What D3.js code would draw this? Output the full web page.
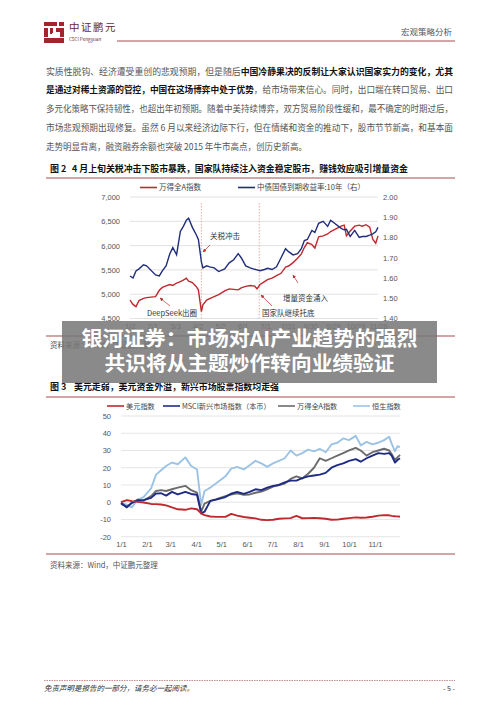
<!DOCTYPE html>
<html>
<head>
<meta charset="utf-8">
<script src="https://cdn.jsdelivr.net/npm/d3@7"></script>
<style>
  body { margin: 0; background: #fff; }
  svg { display: block; font-family: "Noto Sans CJK SC", "Noto Sans", sans-serif; }
</style>
</head>
<body>
<div id="container"></div>
<script>
// ---- chart 1 data: 万得全A指数 (left) vs 10年国债收益率 (right)
const dates1 = ["01-02","01-06","01-10","01-14","01-20","01-24","02-05","02-10","02-14","02-19","02-24","02-28",
  "03-05","03-10","03-14","03-18","03-21","03-26","03-31","04-03","04-07","04-09","04-14","04-18","04-24","04-30",
  "05-08","05-14","05-20","05-26","05-30","06-05","06-11","06-17","06-20","06-24","06-30","07-04","07-10","07-16",
  "07-22","07-28","08-01","08-07","08-13","08-18","08-22","08-26","09-01","09-05","09-10","09-16","09-22","09-26",
  "10-10","10-14","10-17","10-22","10-28","11-03","11-07","11-12","11-17","11-21","11-25","11-28"];
const windA1 = [4880,4790,4745,4870,4915,4930,4950,5080,5140,5170,5200,5180,
  5230,5260,5290,5330,5270,5240,5160,5090,4640,4780,4880,4910,4950,4990,
  5070,5110,5100,5090,5130,5160,5180,5165,5110,5200,5260,5300,5330,5380,
  5430,5560,5580,5650,5740,5830,5960,6060,6020,5950,6180,6200,6240,6290,
  6400,6420,6200,6300,6400,6420,6400,6430,6380,6130,6050,6200];
const bond10y = [1.610,1.600,1.635,1.645,1.665,1.660,1.615,1.610,1.635,1.660,1.720,1.750,
  1.715,1.830,1.855,1.885,1.895,1.850,1.815,1.790,1.680,1.650,1.660,1.655,1.650,1.632,
  1.645,1.675,1.690,1.720,1.700,1.660,1.650,1.643,1.640,1.636,1.642,1.648,1.642,1.655,
  1.700,1.745,1.730,1.714,1.720,1.745,1.785,1.790,1.835,1.825,1.870,1.880,1.855,1.885,
  1.845,1.838,1.840,1.805,1.835,1.800,1.805,1.805,1.812,1.818,1.828,1.850];
const ticks1X = ["01-02","02-01","03-03","04-02","05-02","06-01","07-01","07-31","08-30","09-29","10-29","11-28"];
const ticks1L = [4500,5000,5500,6000,6500,7000];
const ticks1R = [1.4,1.5,1.6,1.7,1.8,1.9,2.0];
const vlines1 = ["04-07","06-23"];

// ---- chart 2 data: 年初以来涨跌幅 (%)
const dates2 = ["01-01","01-08","01-14","01-21","01-28","02-06","02-12","02-18","02-24","03-03","03-10","03-19",
  "03-26","04-02","04-07","04-11","04-18","04-25","05-06","05-13","05-20","05-28","06-04","06-11","06-18","06-25",
  "07-02","07-09","07-16","07-23","07-30","08-06","08-13","08-20","08-27","09-03","09-10","09-17","09-24","10-01",
  "10-09","10-15","10-22","10-29","11-05","11-12","11-18","11-21","11-25","11-28","12-01"];
const usdIdx = [0,1.2,0.6,0.2,-0.2,-1,-1.1,-1.3,-1.8,-3,-4.1,-4.4,
  -3.6,-4.1,-6.5,-7.5,-8.3,-8.5,-8.5,-6.8,-7.8,-8.6,-9,-9.4,-10.2,-10.4,
  -10.2,-9.6,-9.4,-9.2,-7.9,-9.3,-9.2,-9.1,-9.3,-9.6,-10.2,-10.1,-9.6,-9.2,
  -8.8,-9,-8.9,-8.4,-7.8,-7.5,-7.6,-7.9,-8.1,-8.2,-8.4];
const msciEM = [-0.5,-3,-0.3,1,1.2,2.5,5,5.2,3.8,6,4.5,6,
  4.8,4.3,-6.5,-5.5,0.8,1.5,3,5,6,4.8,6,7.5,7,8.5,
  9.5,10,11.5,12.5,12.5,14,15,15.5,16,17,20,21.5,22.5,24,
  25,23.5,25.5,27,28.5,28,28.5,27,23,24.5,25.5];
const windA2 = [-1,-2.5,-0.5,1.5,1,3.5,6.5,7,6.5,7.5,8.5,9.5,
  7,5.5,-5.5,-0.8,0.8,1.8,3.5,4.5,5.2,4.3,4.5,5.5,6.2,7.5,
  9,10,10.8,13.5,15,13.8,16.5,20,25.5,24,25.5,27,28.5,30,
  31.5,30,27,29,30,31,30,28,24.5,26,27.5];
const hsi = [0,-1.5,-3,1.5,3,8,16,18.5,21,23,22,26,
  21,19,-1.5,6.5,8.5,11,15,19.5,20.5,19,21.5,24,22.5,20.5,
  22.5,24,25.5,30,27,28.5,30.5,29.5,31,29,33.5,34.5,37,36,
  38.5,33,35,33.5,34.5,36,38,34,29.5,32.5,32];
const ticks2X = ["01-01","02-01","03-01","04-01","05-01","06-01","07-01","08-01","09-01","10-01","11-01"];
const ticks2Y = [-20,-10,0,10,20,30,40,50];

const parse = d3.timeParse("%Y-%m-%d");
const dt = s => parse("2025-" + s);
const md = d => (d.getMonth() + 1) + "/" + d.getDate();

const W = 500, H = 706;
const red = "#c0282e", navy = "#1f2d7b", dark = "#a3252b";

const svg = d3.select("#container").append("svg")
  .attr("width", W).attr("height", H);
svg.append("rect").attr("width", W).attr("height", H).attr("fill", "#fff");

const defs = svg.append("defs");
defs.append("marker").attr("id", "arr")
  .attr("viewBox", "0 0 10 10").attr("refX", 9).attr("refY", 5)
  .attr("markerWidth", 5).attr("markerHeight", 5).attr("orient", "auto")
  .append("path").attr("d", "M0,0L10,5L0,10z").attr("fill", red);

// header
const logo = svg.append("g").attr("fill", dark);
[[44,22,13,4],[59,22,5,4],[44,28,4,9],[50,28,3,6],[56,28,8,4],[60,32,4,5],[44,38,20,5],[52,33,4,5]]
  .forEach(r => logo.append("rect").attr("x", r[0]).attr("y", r[1]).attr("width", r[2]).attr("height", r[3]));
logo.select("rect:nth-child(8)").attr("fill", "#fff");
svg.append("text").attr("x", 69).attr("y", 31).attr("font-size", 10.5).attr("fill", "#6b2a2d")
  .attr("letter-spacing", 1.5).text("中证鹏元");
svg.append("text").attr("x", 69).attr("y", 40.5).attr("font-size", 4.6).attr("fill", "#6b2a2d")
  .text("CSCI Pengyuan");
svg.append("line").attr("x1", 117).attr("x2", 455).attr("y1", 41).attr("y2", 41)
  .attr("stroke", "#a84c50").attr("stroke-width", 1);
svg.append("text").attr("x", 452).attr("y", 35).attr("text-anchor", "end")
  .attr("font-size", 8.5).attr("fill", "#555").text("宏观策略分析");

// body paragraph
const para = [
  {y: 74.5, len: 407, parts: [["实质性脱钩、经济遭受重创的悲观预期，但是随后", false], ["中国冷静果决的反制让大家认识国家实力的变化，尤其", true]]},
  {y: 93, len: 407, parts: [["是通过对稀土资源的管控，中国在这场博弈中处于优势", true], ["，给市场带来信心。同时，出口端在转口贸易、出口", false]]},
  {y: 112, len: 407, parts: [["多元化策略下保持韧性，也超出年初预期。随着中美持续博弈，双方贸易阶段性缓和，最不确定的时期过后，", false]]},
  {y: 131, len: 407, parts: [["市场悲观预期出现修复。虽然 6 月以来经济边际下行，但在情绪和资金的推动下，股市节节新高，和基本面", false]]},
  {y: 149.5, len: 261, parts: [["走势明显背离，融资融券余额也突破 2015 年牛市高点，创历史新高。", false]]}
];
para.forEach(p => {
  const t = svg.append("text").attr("x", 46).attr("y", p.y).attr("font-size", 8.8)
    .attr("textLength", p.len).attr("lengthAdjust", "spacingAndGlyphs");
  p.parts.forEach(q => t.append("tspan").text(q[0])
    .attr("font-weight", q[1] ? "bold" : "normal").attr("fill", q[1] ? "#111" : "#555"));
});

function figTitle(y, num, txt, len) {
  svg.append("text").attr("x", 50).attr("y", y).attr("font-size", 9).attr("font-weight", "bold")
    .attr("fill", "#111").text(num);
  svg.append("text").attr("x", num === "图 2" ? 72 : 74).attr("y", y).attr("font-size", 9)
    .attr("font-weight", "bold").attr("fill", "#111")
    .attr("textLength", len).attr("lengthAdjust", "spacingAndGlyphs").text(txt);
}
function rule(y) {
  svg.append("line").attr("x1", 46).attr("x2", 455).attr("y1", y).attr("y2", y)
    .attr("stroke", "#a84c50").attr("stroke-width", 1.2);
}
function source(y) {
  svg.append("text").attr("x", 50).attr("y", y).attr("font-size", 7.5).attr("fill", "#555")
    .text("资料来源：Wind，中证鹏元整理");
}

// ================= chart 1 =================
figTitle(171.5, "图 2", "4 月上旬关税冲击下股市暴跌，国家队持续注入资金稳定股市，赚钱效应吸引增量资金", 336);
rule(178);

const x1 = d3.scaleTime().domain([dt("01-02"), dt("11-28")]).range([130, 378]);
const yL = d3.scaleLinear().domain([4500, 7000]).range([318.5, 197]);
const yR = d3.scaleLinear().domain([1.4, 2.0]).range([318.5, 197]);

const c1 = svg.append("g");
c1.append("g").selectAll("line").data(ticks1L).join("line")
  .attr("x1", 130).attr("x2", 378).attr("y1", d => yL(d)).attr("y2", d => yL(d))
  .attr("stroke", "#d9d9d9").attr("stroke-width", 0.8);

const axL = c1.append("g").attr("transform", "translate(130,0)")
  .call(d3.axisLeft(yL).tickValues(ticks1L).tickSize(0).tickPadding(10).tickFormat(d3.format(",")));
const axR = c1.append("g").attr("transform", "translate(378,0)")
  .call(d3.axisRight(yR).tickValues(ticks1R).tickSize(0).tickPadding(5).tickFormat(d3.format(".2f")));
const axB = c1.append("g").attr("transform", "translate(0,318.5)")
  .call(d3.axisBottom(x1).tickValues(ticks1X.map(dt)).tickSize(0).tickPadding(5).tickFormat(md));
[axL, axR, axB].forEach(a => {
  a.select(".domain").remove();
  a.selectAll("text").attr("font-size", 7.5).attr("fill", "#555").attr("font-family", "Liberation Sans, sans-serif");
});

c1.selectAll(".vl").data(vlines1).join("line").attr("class", "vl")
  .attr("x1", d => x1(dt(d))).attr("x2", d => x1(dt(d))).attr("y1", 203).attr("y2", 318.5)
  .attr("stroke", "#e39a9a").attr("stroke-width", 0.8).attr("stroke-dasharray", "1.5,1.5");

const line1L = d3.line().x((d, i) => x1(dt(dates1[i]))).y(d => yL(d));
const line1R = d3.line().x((d, i) => x1(dt(dates1[i]))).y(d => yR(d));
c1.append("path").attr("d", line1L(windA1)).attr("fill", "none").attr("stroke", red).attr("stroke-width", 1.4);
c1.append("path").attr("d", line1R(bond10y)).attr("fill", "none").attr("stroke", navy).attr("stroke-width", 1.4);

// annotations
const notes = [
  {t: "关税冲击", tx: 210, ty: 239, a: [210, 245, 203, 252]},
  {t: "DeepSeek出圈", tx: 147, ty: 316, a: [170, 306, 160, 298]},
  {t: "国家队继续托底", tx: 262, ty: 316, a: [272, 306, 261, 295]},
  {t: "增量资金涌入", tx: 283, ty: 301, a: [298, 283, 293, 275]}
];
notes.forEach(n => {
  c1.append("line").attr("x1", n.a[0]).attr("y1", n.a[1]).attr("x2", n.a[2]).attr("y2", n.a[3])
    .attr("stroke", red).attr("stroke-width", 0.7).attr("marker-end", "url(#arr)");
  c1.append("text").attr("x", n.tx).attr("y", n.ty).attr("font-size", 7.5).attr("fill", "#333").text(n.t);
});

// legend 1
const leg1 = [{c: red, t: "万得全A指数", x: 140}, {c: navy, t: "中债国债到期收益率:10年（右）", x: 238}];
leg1.forEach(l => {
  svg.append("line").attr("x1", l.x).attr("x2", l.x + 17).attr("y1", 187.5).attr("y2", 187.5)
    .attr("stroke", l.c).attr("stroke-width", 1.6);
  svg.append("text").attr("x", l.x + 19).attr("y", 190.3).attr("font-size", 7.5).attr("fill", "#444").text(l.t);
});

rule(336);
source(347.5);

// ================= chart 2 =================
figTitle(389.5, "图 3", "美元走弱，美元资金外溢，新兴市场股票指数均走强", 205);
rule(397);

const x2 = d3.scaleTime().domain([dt("01-01"), dt("12-01")]).range([121, 400]);
const y2 = d3.scaleLinear().domain([-20, 50]).range([536.7, 416]);

const c2 = svg.append("g");
c2.append("g").selectAll("line").data(ticks2Y).join("line")
  .attr("x1", 121).attr("x2", 400).attr("y1", d => y2(d)).attr("y2", d => y2(d))
  .attr("stroke", "#dedede").attr("stroke-width", 0.8);
const ax2L = c2.append("g").attr("transform", "translate(121,0)")
  .call(d3.axisLeft(y2).tickValues(ticks2Y).tickSize(0).tickPadding(10).tickFormat(d => d < 0 ? "-" + (-d) : d));
const ax2B = c2.append("g").attr("transform", "translate(0,537)")
  .call(d3.axisBottom(x2).tickValues(ticks2X.map(dt)).tickSize(0).tickPadding(5).tickFormat(md));
[ax2L, ax2B].forEach(a => {
  a.select(".domain").remove();
  a.selectAll("text").attr("font-size", 7.5).attr("fill", "#555").attr("font-family", "Liberation Sans, sans-serif");
});

const series2 = [
  {v: hsi, c: "#9cc3e5", t: "恒生指数", lx: 353},
  {v: windA2, c: "#6b6b6b", t: "万得全A指数", lx: 278},
  {v: msciEM, c: "#1e2b86", t: "MSCI新兴市场指数（本币）", lx: 163},
  {v: usdIdx, c: red, t: "美元指数", lx: 107}
];
const line2 = d3.line().x((d, i) => x2(dt(dates2[i]))).y(d => y2(d));
series2.forEach(s => {
  c2.append("path").attr("d", line2(s.v)).attr("fill", "none")
    .attr("stroke", s.c).attr("stroke-width", 1.9).attr("stroke-linejoin", "round");
  svg.append("line").attr("x1", s.lx).attr("x2", s.lx + 17).attr("y1", 406).attr("y2", 406)
    .attr("stroke", s.c).attr("stroke-width", 1.6);
  svg.append("text").attr("x", s.lx + 19).attr("y", 408.8).attr("font-size", 7.2).attr("fill", "#444").text(s.t);
});

rule(554);
source(567.5);

// footer
svg.append("line").attr("x1", 44).attr("x2", 455).attr("y1", 680.5).attr("y2", 680.5)
  .attr("stroke", "#b05a5e").attr("stroke-width", 0.7).attr("stroke-dasharray", "1.5,1");
svg.append("text").attr("x", 44).attr("y", 691).attr("font-size", 7.5).attr("font-style", "italic")
  .attr("fill", "#333").text("免责声明是报告的一部分，请务必一起阅读。");
svg.append("text").attr("x", 455).attr("y", 691).attr("text-anchor", "end").attr("font-size", 7)
  .attr("fill", "#333").text("- 5 -");

// overlay banner
svg.append("rect").attr("x", 62).attr("y", 321).attr("width", 375).attr("height", 62)
  .attr("fill", "#777").attr("fill-opacity", 0.86);
const bannerLines = [
  {t: "银河证券：市场对AI产业趋势的强烈", y: 345.5, len: 336},
  {t: "共识将从主题炒作转向业绩验证", y: 370.5, len: 290}
];
bannerLines.forEach(b => {
  svg.append("text").attr("x", 249.5).attr("y", b.y).attr("text-anchor", "middle")
    .attr("font-size", 20).attr("font-weight", "bold").attr("fill", "#fff")
    .attr("textLength", b.len).attr("lengthAdjust", "spacingAndGlyphs").text(b.t);
});
</script>
</body>
</html>
